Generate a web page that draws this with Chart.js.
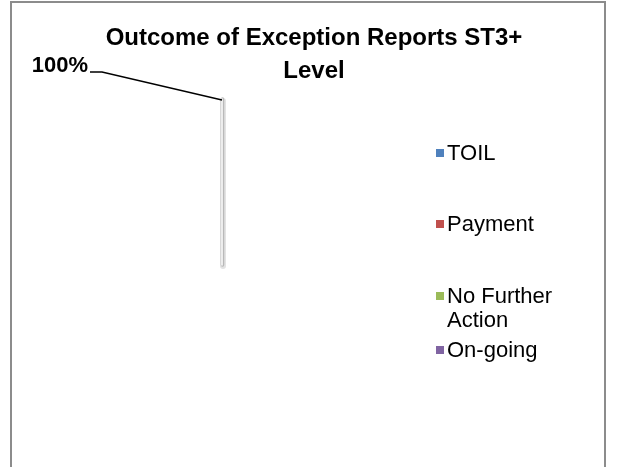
<!DOCTYPE html>
<html>
<head>
<meta charset="utf-8">
<script src="https://cdn.jsdelivr.net/npm/chart.js@4"></script>
<style>
  body { margin: 0; background: #fff; font-family: "Liberation Sans", Arial, sans-serif; }
  #frame { position: absolute; left: 10px; top: 1px; width: 592px; height: 500px; border: 2px solid #8c8c8c; }
  #title { position: absolute; left: 14px; width: 600px; top: 20px; text-align: center;
           font-weight: bold; font-size: 24px; line-height: 33px; color: #000; }
  #wrap { position: absolute; left: 0; top: 0; width: 617px; height: 467px; }
</style>
</head>
<body>
<div id="frame"></div>
<div id="wrap"><canvas id="pie"></canvas></div>
<div id="title">Outcome of Exception Reports ST3+<br>Level</div>
<script>
// data: the whole pie is one category (100%)
const categories = ['TOIL', 'Payment', 'No Further Action', 'On-going'];
const reportCounts = [1, 0, 0, 0];
const legendColors = ['#4F81BD', '#C0504D', '#9BBB59', '#8064A2'];

// the pie itself is seen edge-on in the original, so only its edge line shows
const edgeLine = {
  id: 'edgeLine',
  afterDatasetsDraw(chart) {
    const ctx = chart.ctx;
    const arc = chart.getDatasetMeta(0).data[0];
    const top = arc.y - arc.outerRadius;
    const bottom = arc.y + arc.outerRadius;
    ctx.save();
    ctx.lineCap = 'round';
    ctx.strokeStyle = '#e3e3e3';
    ctx.lineWidth = 6;
    ctx.beginPath(); ctx.moveTo(arc.x + 1, top + 2); ctx.lineTo(arc.x + 1, bottom + 1); ctx.stroke();
    ctx.strokeStyle = '#b9b9b9';
    ctx.lineWidth = 3.5;
    ctx.beginPath(); ctx.moveTo(arc.x + 0.5, top); ctx.lineTo(arc.x + 0.5, bottom); ctx.stroke();
    ctx.strokeStyle = '#ffffff';
    ctx.lineWidth = 1.5;
    ctx.beginPath(); ctx.moveTo(arc.x, top); ctx.lineTo(arc.x, bottom); ctx.stroke();
    ctx.restore();
  }
};

// "100%" data label with its leader line to the top of the pie
const pctLabel = {
  id: 'pctLabel',
  afterDatasetsDraw(chart) {
    const ctx = chart.ctx;
    const meta = chart.getDatasetMeta(0);
    const data = chart.data.datasets[0].data;
    const total = data.reduce((a, b) => a + b, 0);
    data.forEach((v, i) => {
      if (!v) return;
      const arc = meta.data[i];
      const tx = arc.x, ty = arc.y - arc.outerRadius;
      const pct = Math.round(v / total * 100) + '%';
      ctx.save();
      ctx.font = 'bold 22px "Liberation Sans", Arial, sans-serif';
      ctx.fillStyle = '#000';
      ctx.textBaseline = 'middle';
      ctx.textAlign = 'right';
      const lx = tx - 134, ly = ty - 30;
      ctx.fillText(pct, lx, ly - 3);
      ctx.strokeStyle = '#000';
      ctx.lineWidth = 1.3;
      ctx.beginPath();
      ctx.moveTo(lx + 2, ly + 3);
      ctx.lineTo(lx + 14, ly + 3);
      ctx.lineTo(tx, ty + 1);
      ctx.stroke();
      ctx.restore();
    });
  }
};

// legend on the right, long labels wrapped like the original
const sideLegend = {
  id: 'sideLegend',
  afterDraw(chart) {
    const ctx = chart.ctx;
    const x = 436, maxW = 150, lineH = 24;
    const rowY = [153, 224, 296, 350];
    ctx.save();
    ctx.font = '22px "Liberation Sans", Arial, sans-serif';
    ctx.textBaseline = 'middle';
    chart.data.labels.forEach((label, i) => {
      const words = label.split(' ');
      const lines = [];
      let cur = '';
      words.forEach(w => {
        const test = cur ? cur + ' ' + w : w;
        if (ctx.measureText(test).width > maxW - 15 && cur) { lines.push(cur); cur = w; }
        else cur = test;
      });
      lines.push(cur);
      const y = rowY[i];
      ctx.fillStyle = legendColors[i];
      ctx.fillRect(x, y - 4, 8, 8);
      ctx.fillStyle = '#000';
      lines.forEach((ln, k) => ctx.fillText(ln, x + 11, y + 1 + k * lineH));
    });
    ctx.restore();
  }
};

new Chart(document.getElementById('pie'), {
  type: 'pie',
  data: {
    labels: categories,
    datasets: [{
      data: reportCounts,
      backgroundColor: 'rgba(255,255,255,0)',
      borderWidth: 0
    }]
  },
  options: {
    responsive: true,
    maintainAspectRatio: false,
    animation: false,
    layout: { padding: { left: 0, right: 173, top: 99, bottom: 202 } },
    plugins: {
      legend: { display: false },
      title: { display: false },
      tooltip: { enabled: false }
    }
  },
  plugins: [edgeLine, pctLabel, sideLegend]
});
</script>
</body>
</html>
